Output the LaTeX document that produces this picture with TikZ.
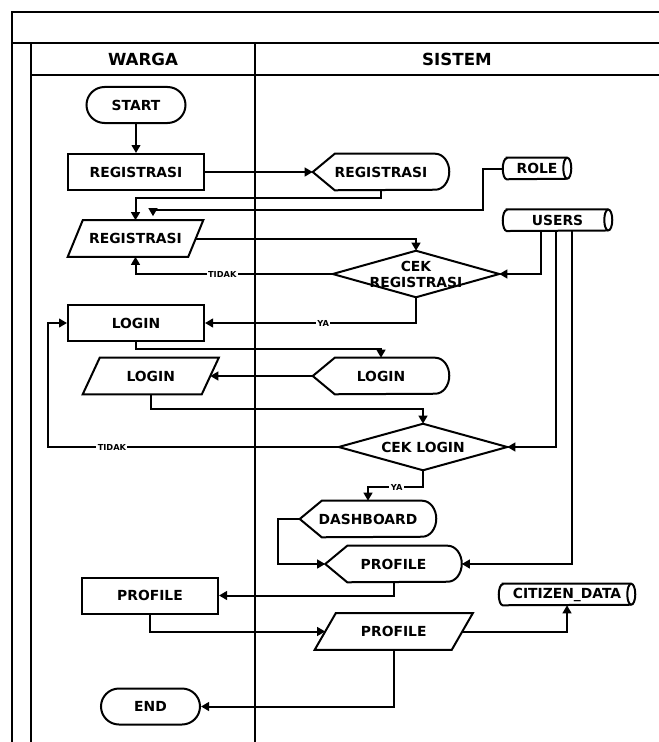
\documentclass[tikz,border=0pt]{standalone}
\usepackage{fontspec}
\setmainfont{DejaVu Sans}
\usetikzlibrary{arrows.meta,calc}

% outline helpers: the node itself is invisible, its border is drawn from its anchors
\newcommand\dispout[1]{%
  \draw[shapeline] (#1.west) -- ($(#1.north west)+(22,0)$) -- ($(#1.north east)+(-14,0)$)
    arc[start angle=90,end angle=-90,x radius=10.5pt,y radius=13.5pt]
    -- ($(#1.south west)+(22,0)$) -- cycle;}
\newcommand\paraout[2]{%
  \draw[shapeline] ($(#1.north west)+(#2/2,0)$) -- ($(#1.north east)+(#2/2,0)$)
    -- ($(#1.south east)+(-#2/2,0)$) -- ($(#1.south west)+(-#2/2,0)$) -- cycle;}
\newcommand\diamout[1]{%
  \draw[shapeline] (#1.north) -- (#1.east) -- (#1.south) -- (#1.west) -- cycle;}
\newcommand\cylout[1]{%
  \draw[shapeline] ($(#1.north west)+(4,0)$) -- ($(#1.north east)+(-4,0)$)
    arc[start angle=90,end angle=-90,x radius=3pt,y radius=7.875pt]
    -- ($(#1.south west)+(4,0)$)
    arc[start angle=270,end angle=90,x radius=3pt,y radius=7.875pt] -- cycle;
  \draw[shapeline] ($(#1.north east)+(-4,0)$)
    arc[start angle=90,end angle=270,x radius=3pt,y radius=7.875pt];}

\begin{document}
\begin{tikzpicture}[x=0.75pt,y=-0.75pt,
  shapeline/.style={line width=1.5pt, line join=miter},
  plain/.style={line width=1.5pt},
  conn/.style={line width=1.5pt, -{Triangle[length=6pt,width=6.5pt]}},
  txt/.style={font=\bfseries\fontsize{10.4}{12}\selectfont, inner sep=0pt, align=center},
  procbox/.style={txt, draw, line width=1.5pt, minimum width=102pt, minimum height=27pt},
  termbox/.style={txt, draw, line width=1.5pt, rounded corners=13.5pt, minimum width=74.25pt, minimum height=27pt},
  dispbox/.style={txt, minimum width=102pt, minimum height=27pt},
  iobox/.style={txt, minimum height=27pt},
  dbbox/.style={txt, minimum height=15.75pt},
  decbox/.style={txt, minimum height=34.5pt},
  tag/.style={font=\bfseries\fontsize{6.2}{7}\selectfont, fill=white, inner sep=1pt},
  head/.style={font=\bfseries\fontsize{12.5}{14}\selectfont, inner sep=0pt}
]
\useasboundingbox (0,0) rectangle (659,742);

% pool and lanes
\draw[plain] (659,12) -- (12,12) -- (12,742);
\draw[plain] (12,43) -- (659,43);
\draw[plain] (31,43) -- (31,742);
\draw[plain] (31,75) -- (659,75);
\draw[plain] (255,43) -- (255,742);
\node[head] (warga) at (143,59) {WARGA};
\node[head] (sistem) at (457,59) {SISTEM};

% nodes
\node[termbox] (tstart) at (136,105) {START};
\node[procbox] (reg1) at (136,172) {REGISTRASI};
\node[dispbox] (dreg) at (381,172) {REGISTRASI};
\node[iobox, minimum width=90pt] (reg2) at (135.5,238.5) {REGISTRASI};
\node[dbbox, minimum width=51pt] (role) at (537,168.5) {ROLE};
\node[dbbox, minimum width=81.75pt] (users) at (557.5,220.25) {USERS};
\node[decbox, minimum width=124.5pt] (cekreg) at (416,274) {CEK\\REGISTRASI};
\node[procbox] (login1) at (136,323) {LOGIN};
\node[dispbox] (dlogin) at (381,376) {LOGIN};
\node[iobox, minimum width=88.9pt] (login2) at (150.75,376) {LOGIN};
\node[decbox, minimum width=126pt] (ceklog) at (423,447) {CEK LOGIN};
\node[dispbox] (dash) at (368,519) {DASHBOARD};
\node[dispbox] (dprof) at (393.5,564) {PROFILE};
\node[procbox] (prof1) at (150,595.5) {PROFILE};
\node[iobox, minimum width=102.4pt] (prof2) at (393.75,631.5) {PROFILE};
\node[dbbox, minimum width=102pt] (citizen) at (567,594.5) {CITIZEN\_DATA};
\node[termbox] (tend) at (150.5,706.5) {END};

% outlines
\dispout{dreg}
\dispout{dlogin}
\dispout{dash}
\dispout{dprof}
\paraout{reg2}{15}
\paraout{login2}{17}
\paraout{prof2}{21}
\diamout{cekreg}
\diamout{ceklog}
\cylout{role}
\cylout{users}
\cylout{citizen}

% connectors
\draw[conn] (tstart.south) -- (reg1.north);
\draw[conn] (reg1.east) -- (dreg.west);
\draw[conn] (dreg.south) -- ++(0,8) -| (reg2.north);
\draw[conn] (role.west) -- ++(-20,0) |- ($(reg2.north)+(17.5,-10)$) -- ($(reg2.north)+(17.5,-4)$);
\draw[conn] (reg2.east) -| (cekreg.north);
\draw[conn] (cekreg.west) -| node[tag,pos=0.28]{TIDAK} (reg2.south);
\draw[conn] ($(users.south)+(-16.5,0)$) |- (cekreg.east);
\draw[conn] ($(users.south)+(-1.5,0)$) |- (ceklog.east);
\draw[conn] ($(users.south)+(14.5,0)$) |- (dprof.east);
\draw[conn] (cekreg.south) |- node[tag,pos=0.72]{YA} (login1.east);
\draw[conn] (login1.south) -- ++(0,7) -| (dlogin.north);
\draw[conn] (dlogin.west) -- (login2.east);
\draw[conn] (login2.south) -- ++(0,15) -| (ceklog.north);
\draw[conn] (ceklog.west) -| node[tag,pos=0.39]{TIDAK} ($(login1.west)+(-19,0)$) -- (login1.west);
\draw[conn] (ceklog.south) -- ++(0,17) -| node[tag,pos=0.24]{YA} (dash.north);
\draw[conn] (dash.west) -- ++(-22,0) |- (dprof.west);
\draw[conn] (dprof.south) |- (prof1.east);
\draw[conn] (prof1.south) |- (prof2.west);
\draw[conn] (prof2.east) -| (citizen.south);
\draw[conn] (prof2.south) |- (tend.east);
\end{tikzpicture}
\end{document}
